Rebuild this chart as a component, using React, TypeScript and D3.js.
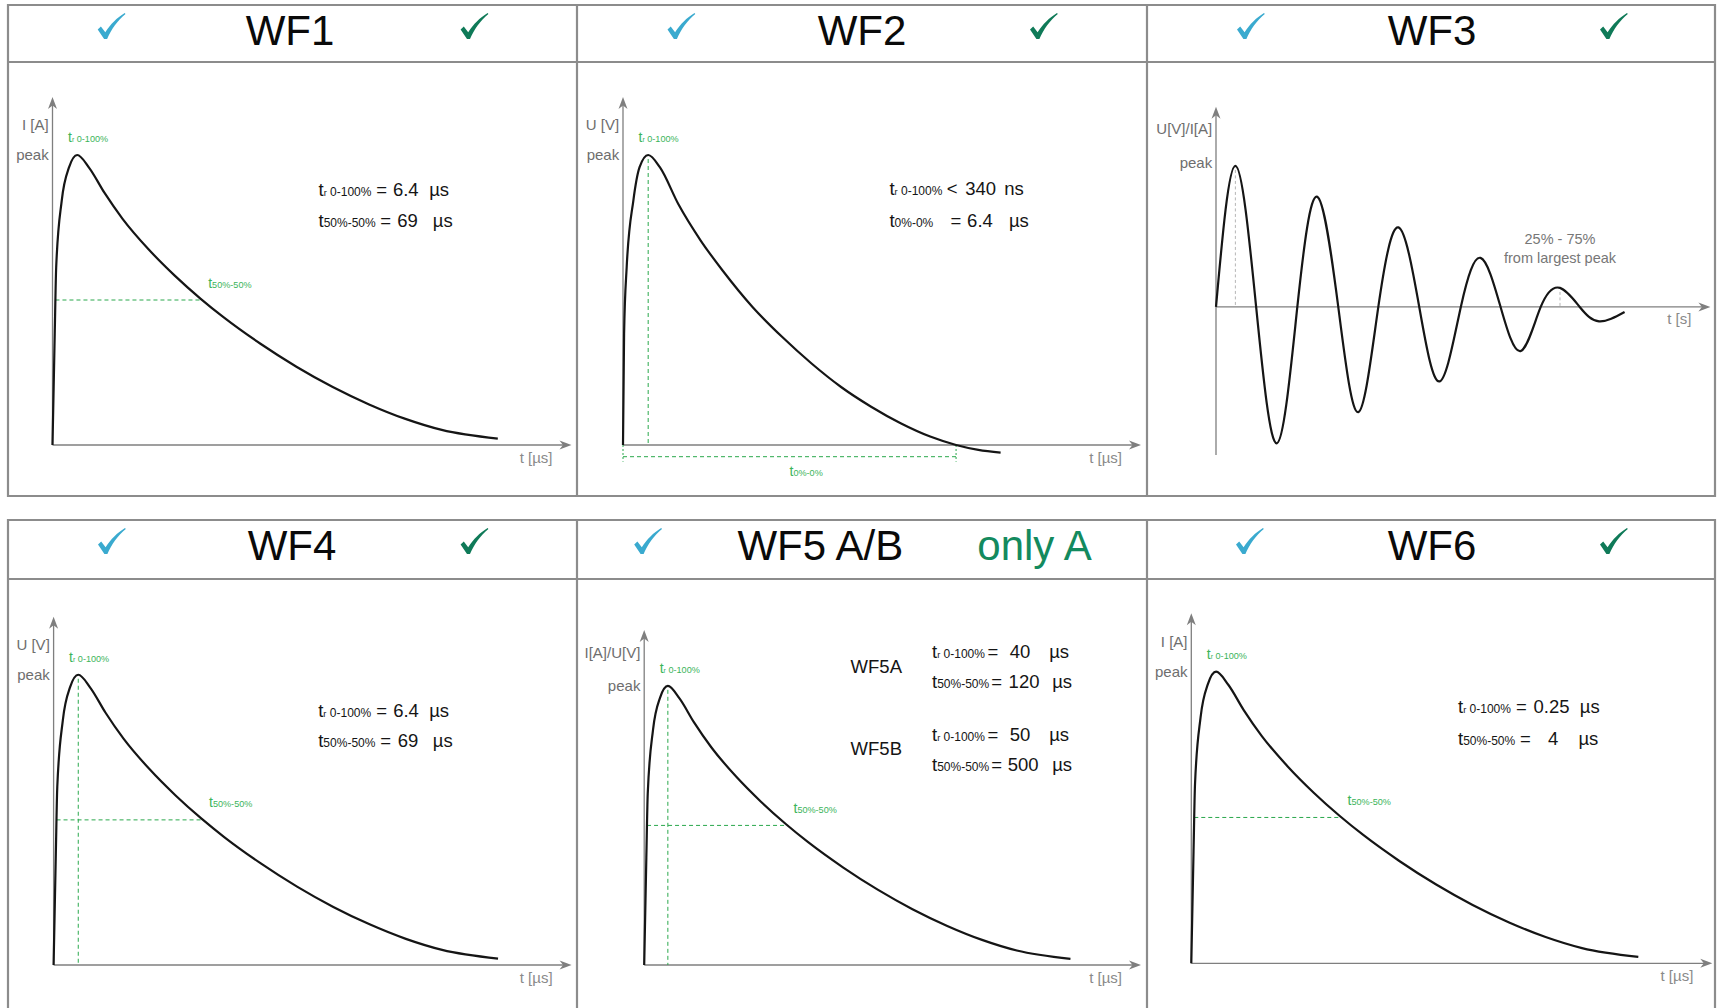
import React, { useEffect, useRef } from 'react';
import * as d3 from 'd3';

// panel titles, reading order
const TITLES = ['WF1', 'WF2', 'WF3', 'WF4', 'WF5 A/B', 'WF6'];
const WF5_NOTE = 'only A';

// double exponential surge (WF1, WF4, WF5, WF6): time in % of the t axis, value relative to peak
const SURGE_T = [0, 0.43, 0.71, 1.78, 3.2, 4.76, 7.1, 10, 13.5, 18.5, 23.5, 28.5, 33, 40, 47, 54, 61, 68, 75, 85.8];
const SURGE_V = [0, 0.384, 0.613, 0.843, 0.958, 1, 0.955, 0.87, 0.78, 0.675, 0.585, 0.505, 0.44, 0.35, 0.27, 0.2, 0.14, 0.09, 0.052, 0.022];

// WF2: fast pulse, dips a little under the axis at the end
const WF2_T = [0, 0.21, 0.71, 2, 3.2, 4.86, 7.14, 10.7, 15, 19.3, 25, 30.7, 36.4, 42.1, 47.9, 53.6, 59.3, 64.3, 68.6, 72.9];
const WF2_V = [0, 0.384, 0.613, 0.843, 0.958, 1, 0.957, 0.83, 0.705, 0.6, 0.476, 0.373, 0.281, 0.2, 0.132, 0.075, 0.029, 0, -0.017, -0.026];

// WF3: damped ring wave (extremes and zero crossings)
const RING_T = [0, 3.92, 8.12, 12.33, 16.45, 20.43, 24.73, 28.78, 32.83, 36.9, 41.11, 45.23, 49.52, 53.51, 57.56, 61.61, 65.68, 69.58, 73.57, 77.48, 82.64];
const RING_V = [0, 1, 0, -0.967, 0, 0.782, 0, -0.746, 0, 0.564, 0, -0.528, 0, 0.348, 0, -0.313, 0, 0.135, 0, -0.102, -0.036];

// parameter rows: [subscript r, subscript, operator, value, unit]
const WF1_PARAMS = [['r', '0-100%', '=', '6.4', 'µs'], ['', '50%-50%', '=', '69', 'µs']];
const WF2_PARAMS = [['r', '0-100%', '<', '340', 'ns'], ['', '0%-0%', '=', '6.4', 'µs']];
const WF4_PARAMS = [['r', '0-100%', '=', '6.4', 'µs'], ['', '50%-50%', '=', '69', 'µs']];
const WF5_PARAMS = [['r', '0-100%', '=', '40', 'µs'], ['', '50%-50%', '=', '120', 'µs'], ['r', '0-100%', '=', '50', 'µs'], ['', '50%-50%', '=', '500', 'µs']];
const WF5_NAMES = ['WF5A', 'WF5B'];
const WF6_PARAMS = [['r', '0-100%', '=', '0.25', 'µs'], ['', '50%-50%', '=', '4', 'µs']];

const FONT = "'Liberation Sans', Arial, Helvetica, sans-serif";
const BORDER = '#8c8c8c';
const AXIS = '#7f7f7f';
const LABEL = '#6e6e6e';
const INK = '#151515';
const GREEN = '#3bb45a';
const GREEN_DASH = '#2aa84c';
const BLUE_CHECK = '#3aaacf';
const GREEN_CHECK = '#0f7a58';

const GRID_X = [8, 577, 1147, 1715];
const ROW_TOP = [5, 520];
const ROW_HEAD = [62, 579];
const ROW_BOTTOM = [496, 1030];

const PANELS: any[] = [
  {
    title: TITLES[0], row: 0, titleX: 290, checks: [97.7, 460.6],
    x0: 52.5, w: 519, yTop: 97, yBottom: 445, yDomain: [0, 1.2],
    yLabel: 'I [A]', yLabelY: 130, peakDy: 5, xLabel: 't [µs]',
    t: SURGE_T, v: SURGE_V, curve: d3.curveMonotoneX, riseTag: true, peakDrop: false, halfTag: true,
    params: WF1_PARAMS, textX: 318.5, textY: [195.5, 226.5], opDx: [57.7, 61.8], valDx: [74.4, 78.8], unitDx: [110.7, 114.3],
  },
  {
    title: TITLES[1], row: 0, titleX: 862, checks: [667.5, 1030],
    x0: 623, w: 518, yTop: 97, yBottom: 445, yDomain: [0, 1.2],
    yLabel: 'U [V]', yLabelY: 130, peakDy: 5, xLabel: 't [µs]',
    t: WF2_T, v: WF2_V, curve: d3.curveMonotoneX, riseTag: true, peakDrop: true, halfTag: false, zeroSpan: true,
    params: WF2_PARAMS, textX: 889.4, textY: [195, 226.7], opDx: [57.4, 61], valDx: [75.9, 77.7], unitDx: [114.8, 119.5],
  },
  {
    title: TITLES[2], row: 0, titleX: 1432, checks: [1237, 1600],
    x0: 1216, w: 494.4, yTop: 106.7, yBottom: 455, yDomain: [-1.05, 1.42],
    yLabel: 'U[V]/I[A]', yLabelY: 134, peakDy: 2, xLabel: 't [s]',
    t: RING_T, v: RING_V, curve: d3.curveNatural, riseTag: false, peakDrop: false, halfTag: false, ring: true,
  },
  {
    title: TITLES[3], row: 1, titleX: 292, checks: [98, 460.6],
    x0: 53.6, w: 518, yTop: 616.7, yBottom: 965, yDomain: [0, 1.2],
    yLabel: 'U [V]', yLabelY: 650, peakDy: 5, xLabel: 't [µs]',
    t: SURGE_T, v: SURGE_V, curve: d3.curveMonotoneX, riseTag: true, peakDrop: true, halfTag: true,
    params: WF4_PARAMS, textX: 318.2, textY: [716.7, 747.3], opDx: [58, 62], valDx: [75, 79.5], unitDx: [111, 114.6],
  },
  {
    title: TITLES[4], row: 1, titleX: 820.3, checks: [634.2], note: true,
    x0: 644.2, w: 496.8, yTop: 630, yBottom: 965, yDomain: [0, 1.2],
    yLabel: 'I[A]/U[V]', yLabelY: 658, peakDy: 5, xLabel: 't [µs]',
    t: SURGE_T, v: SURGE_V, curve: d3.curveMonotoneX, riseTag: true, peakDrop: true, halfTag: true,
    params: WF5_PARAMS, textX: 932, textY: [657.7, 688.3, 741, 770.7], opDx: [55.5, 59.2, 55.5, 59.2], valDx: [77.7, 76.6, 77.7, 75.8], unitDx: [117.2, 120.2, 117.2, 120.2],
    names: WF5_NAMES, namesX: 850.6, namesY: [673.3, 755],
  },
  {
    title: TITLES[5], row: 1, titleX: 1432, checks: [1236, 1600],
    x0: 1191.3, w: 521, yTop: 613.3, yBottom: 963.3, yDomain: [0, 1.2],
    yLabel: 'I [A]', yLabelY: 647, peakDy: 5, xLabel: 't [µs]',
    t: SURGE_T, v: SURGE_V, curve: d3.curveMonotoneX, riseTag: true, peakDrop: false, halfTag: true,
    params: WF6_PARAMS, textX: 1458, textY: [713.3, 745], opDx: [58, 62], valDx: [75.5, 90], unitDx: [121.8, 120.4],
  },
];

// check mark, drawn in a 28 x 26 box
const CHECK = 'M0,16.5 L3.2,13.6 L7.6,19.2 C13,11 19,5 27,0 L27.8,0.9 C20,7.5 13.5,16 9.4,26 L6.4,26 Z';

function crossings(t: number[], v: number[], level: number) {
  const out: number[] = [];
  for (let i = 1; i < t.length; i++) {
    const a = v[i - 1] - level;
    const b = v[i] - level;
    if ((a < 0 && b >= 0) || (a > 0 && b <= 0)) out.push(t[i - 1] + ((t[i] - t[i - 1]) * a) / (a - b));
  }
  return out;
}

function subLabel(sel: any, size: number, r: string, sub: string) {
  sel.append('tspan').text('t');
  if (r) {
    sel.append('tspan').attr('font-size', size * 0.5).text('r');
    sel.append('tspan').attr('font-size', size * 0.65).text(' ' + sub);
  } else {
    sel.append('tspan').attr('font-size', size * 0.65).text(sub);
  }
}

const App = () => {
  const svgRef = useRef<SVGSVGElement>(null);

  useEffect(() => {
    const svg = d3.select(svgRef.current);
    svg.selectAll('*').remove();
    svg.attr('font-family', FONT);

    svg.append('rect').attr('width', 1717).attr('height', 1008).attr('fill', '#fff');

    // table grid
    const grid = svg.append('g').attr('stroke', BORDER).attr('stroke-width', 2.2);
    ROW_TOP.forEach((top, r) => {
      [top, ROW_HEAD[r], ROW_BOTTOM[r]].forEach((yy) => {
        grid.append('line').attr('x1', GRID_X[0] - 1).attr('x2', GRID_X[3] + 1).attr('y1', yy).attr('y2', yy);
      });
      GRID_X.forEach((xx) => {
        grid.append('line').attr('x1', xx).attr('x2', xx).attr('y1', top - 1).attr('y2', ROW_BOTTOM[r] + 1);
      });
    });

    PANELS.forEach((p) => {
      const g = svg.append('g');
      const top = ROW_TOP[p.row];

      // header
      g.append('text')
        .attr('x', p.titleX).attr('y', top + 40)
        .attr('text-anchor', 'middle')
        .attr('font-size', 42)
        .attr('fill', '#0a0a0a')
        .text(p.title);
      p.checks.forEach((cx: number, i: number) => {
        g.append('path')
          .attr('d', CHECK)
          .attr('transform', `translate(${cx},${top + 8})`)
          .attr('fill', i === 0 ? BLUE_CHECK : GREEN_CHECK);
      });
      if (p.note) {
        g.append('text')
          .attr('x', 1034.5).attr('y', top + 40)
          .attr('text-anchor', 'middle')
          .attr('font-size', 42)
          .attr('fill', '#138a5e')
          .text(WF5_NOTE);
      }

      const x = d3.scaleLinear().domain([0, 100]).range([p.x0, p.x0 + p.w]);
      const y = d3.scaleLinear().domain(p.yDomain).range([p.yBottom, p.yTop]);

      // axes with arrow heads
      const ax = g.append('g').attr('stroke', AXIS).attr('stroke-width', 1.3);
      ax.append('line').attr('x1', x(0)).attr('x2', x(100) - 6).attr('y1', y(0)).attr('y2', y(0));
      ax.append('line').attr('x1', x(0)).attr('x2', x(0)).attr('y1', y(p.yDomain[0])).attr('y2', y(p.yDomain[1]) + 6);
      g.append('path')
        .attr('d', `M${x(100)},${y(0)} l-12,-4.5 l3.5,4.5 l-3.5,4.5 Z`)
        .attr('fill', AXIS);
      g.append('path')
        .attr('d', `M${x(0)},${y(p.yDomain[1])} l-4.5,12 l4.5,-3.5 l4.5,3.5 Z`)
        .attr('fill', AXIS);

      g.append('text')
        .attr('x', x(0) - 3.8).attr('y', p.yLabelY)
        .attr('text-anchor', 'end').attr('font-size', 15).attr('fill', LABEL)
        .text(p.yLabel);
      g.append('text')
        .attr('x', x(100) - 19).attr('y', y(0) + 17.5)
        .attr('text-anchor', 'end').attr('font-size', 15).attr('fill', '#8a8a8a')
        .text(p.xLabel);

      const pi = d3.maxIndex(p.v);
      const px = x(p.t[pi]);
      const py = y(p.v[pi]);

      g.append('text')
        .attr('x', x(0) - 3.8).attr('y', py + p.peakDy)
        .attr('text-anchor', 'end').attr('font-size', 15).attr('fill', LABEL)
        .text('peak');

      if (p.riseTag) {
        const tg = g.append('text').attr('x', x(0) + 15.5).attr('y', py - 13).attr('font-size', 14).attr('fill', GREEN);
        subLabel(tg, 14, 'r', '0-100%');
      }

      if (p.peakDrop) {
        g.append('line')
          .attr('x1', px).attr('x2', px).attr('y1', py + 4).attr('y2', y(0))
          .attr('stroke', GREEN_DASH).attr('stroke-width', 1).attr('stroke-dasharray', '4,3');
      }

      if (p.halfTag) {
        const c = crossings(p.t, p.v, 0.5);
        const hy = y(0.5);
        g.append('line')
          .attr('x1', x(c[0])).attr('x2', x(c[1])).attr('y1', hy).attr('y2', hy)
          .attr('stroke', GREEN_DASH).attr('stroke-width', 1).attr('stroke-dasharray', '4,3');
        const tg = g.append('text').attr('x', x(c[1]) + 6).attr('y', hy - 12.5).attr('font-size', 14).attr('fill', GREEN);
        subLabel(tg, 14, '', '50%-50%');
      }

      if (p.zeroSpan) {
        const c = crossings(p.t, p.v, 0);
        const zx = x(c[0]);
        const zy = y(0) + 11.7;
        const dash = g.append('g').attr('stroke', GREEN_DASH).attr('stroke-width', 1).attr('stroke-dasharray', '4,3');
        dash.append('line').attr('x1', x(0)).attr('x2', zx).attr('y1', zy).attr('y2', zy);
        dash.append('line').attr('x1', x(0)).attr('x2', x(0)).attr('y1', y(0)).attr('y2', zy + 5).attr('stroke-dasharray', '2,2');
        dash.append('line').attr('x1', zx).attr('x2', zx).attr('y1', y(0)).attr('y2', zy + 5).attr('stroke-dasharray', '2,2');
        const tg = g.append('text')
          .attr('x', (x(0) + zx) / 2 + 16.6).attr('y', zy + 19)
          .attr('text-anchor', 'middle').attr('font-size', 14).attr('fill', GREEN);
        subLabel(tg, 14, '', '0%-0%');
      }

      if (p.ring) {
        const peaks = d3.range(1, p.v.length - 1).filter((i) => p.v[i] > p.v[i - 1] && p.v[i] > p.v[i + 1]);
        [peaks[0], peaks[peaks.length - 1]].forEach((i) => {
          g.append('line')
            .attr('x1', x(p.t[i])).attr('x2', x(p.t[i])).attr('y1', y(p.v[i]) + 4).attr('y2', y(0))
            .attr('stroke', '#b5b5b5').attr('stroke-width', 1).attr('stroke-dasharray', '3,2.5');
        });
        const last = peaks[peaks.length - 1];
        const lx = x(p.t[last]);
        const ly = y(p.v[last]);
        g.append('text').attr('x', lx).attr('y', ly - 44).attr('text-anchor', 'middle')
          .attr('font-size', 14.5).attr('fill', '#777').text('25% - 75%');
        g.append('text').attr('x', lx).attr('y', ly - 25).attr('text-anchor', 'middle')
          .attr('font-size', 14.5).attr('fill', '#777').text('from largest peak');
      }

      // the waveform
      const line = d3.line<number>()
        .x((d, i) => x(p.t[i]))
        .y((d) => y(d))
        .curve(p.curve);
      g.append('path')
        .datum(p.v)
        .attr('d', line)
        .attr('fill', 'none')
        .attr('stroke', INK)
        .attr('stroke-width', 2.2)
        .attr('stroke-linejoin', 'round');

      // parameter text
      if (p.params) {
        p.params.forEach((row: string[], i: number) => {
          const by = p.textY[i];
          const tg = g.append('text').attr('x', p.textX).attr('y', by).attr('font-size', 18.5).attr('fill', INK)
            .style('white-space', 'pre');
          subLabel(tg, 18.5, row[0], row[1]);
          g.append('text').attr('x', p.textX + p.opDx[i]).attr('y', by).attr('font-size', 18.5).attr('fill', INK).text(row[2]);
          g.append('text').attr('x', p.textX + p.valDx[i]).attr('y', by).attr('font-size', 18.5).attr('fill', INK).text(row[3]);
          g.append('text').attr('x', p.textX + p.unitDx[i]).attr('y', by).attr('font-size', 18.5).attr('fill', INK).text(row[4]);
        });
      }
      if (p.names) {
        p.names.forEach((n: string, i: number) => {
          g.append('text').attr('x', p.namesX).attr('y', p.namesY[i]).attr('font-size', 18.5).attr('fill', INK).text(n);
        });
      }
    });
  }, []);

  return (
    <svg
      ref={svgRef}
      width={1717}
      height={1008}
      style={{ position: 'absolute', left: 0, top: 0, display: 'block' }}
    />
  );
};

export default App;
